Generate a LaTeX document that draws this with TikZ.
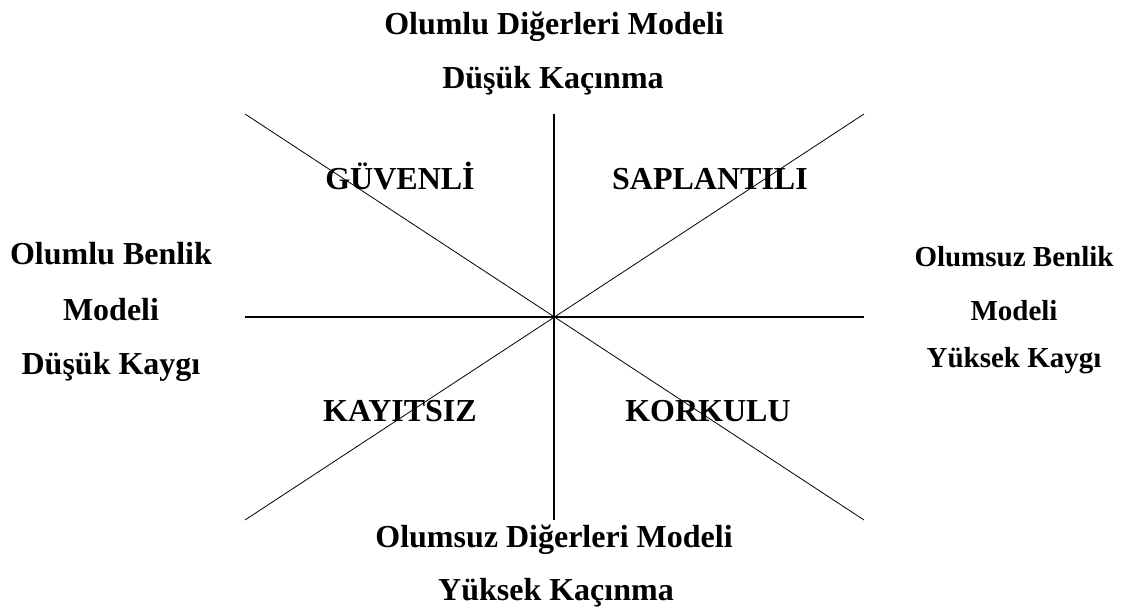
\documentclass[tikz,border=0pt]{standalone}
\usepackage{fontspec}
\setmainfont{Liberation Serif}
\begin{document}
\begin{tikzpicture}[x=1pt,y=-1pt,
  lbl/.style={inner sep=0pt,anchor=base,font=\fontsize{32}{38}\selectfont\bfseries},
  lbls/.style={inner sep=0pt,anchor=base,font=\fontsize{29}{35}\selectfont\bfseries},
  axis/.style={line width=2.6pt},
  diag/.style={line width=0.8pt}]
\useasboundingbox (0,0) rectangle (1130,612);
% axis end points
\coordinate (C) at (554,317);
\coordinate (T) at (554,114);
\coordinate (B) at (554,520);
\coordinate (L) at (245,317);
\coordinate (R) at (864,317);
\coordinate (TL) at (245,114);
\coordinate (TR) at (864,114);
\coordinate (BL) at (245,520);
\coordinate (BR) at (864,520);
\draw[axis] (T) -- (B);
\draw[axis] (L) -- (R);
\draw[diag] (TL) -- (BR);
\draw[diag] (TR) -- (BL);
% top / bottom labels
\node[lbl] (top1) at (554,35) {Olumlu Diğerleri Modeli};
\node[lbl] (top2) at (553,89) {Düşük Kaçınma};
\node[lbl] (bot1) at (554,547) {Olumsuz Diğerleri Modeli};
\node[lbl] (bot2) at (556,600) {Yüksek Kaçınma};
% left labels
\node[lbl] (l1) at (111,265) {Olumlu Benlik};
\node[lbl] (l2) at (111,320) {Modeli};
\node[lbl] (l3) at (111,374) {Düşük Kaygı};
% right labels
\node[lbls] (r1) at (1014,267) {Olumsuz Benlik};
\node[lbls] (r2) at (1014,321) {Modeli};
\node[lbls] (r3) at (1014,367) {Yüksek Kaygı};
% quadrant labels
\node[lbl] (q1) at (400,190) {GÜVENLİ};
\node[lbl] (q2) at (710,190) {SAPLANTILI};
\node[lbl] (q3) at (400,421) {KAYITSIZ};
\node[lbl] (q4) at (708,421) {KORKULU};
\end{tikzpicture}
\end{document}
